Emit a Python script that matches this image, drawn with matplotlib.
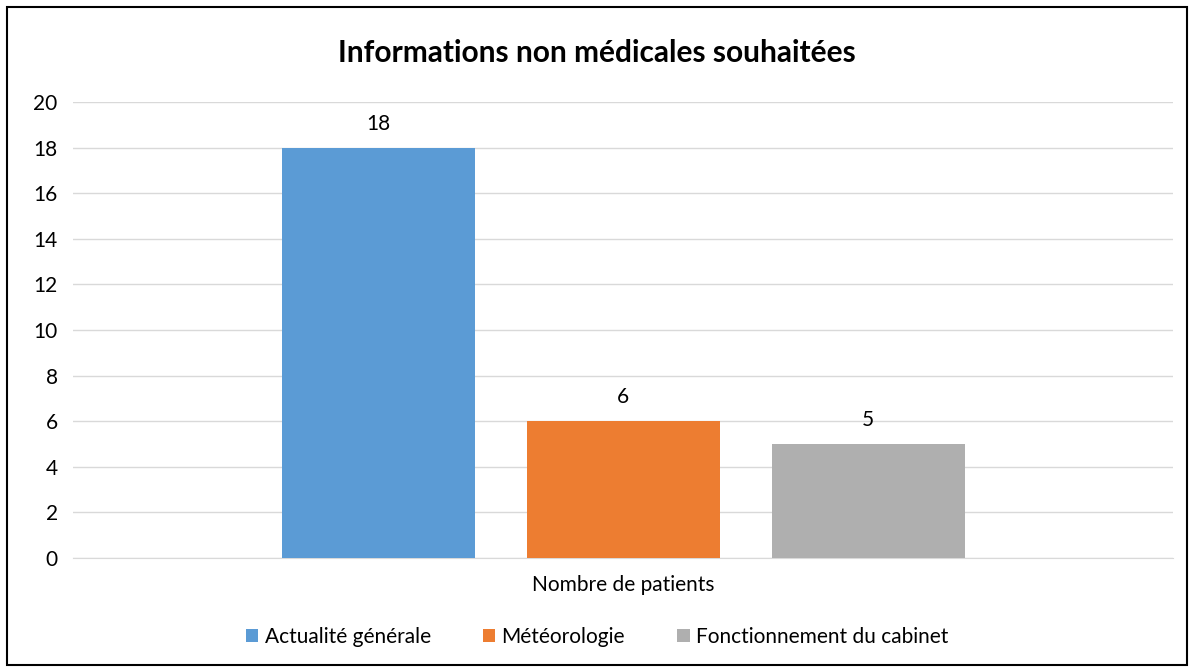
import matplotlib.pyplot as plt
from matplotlib.patches import Rectangle

plt.rcParams['font.family'] = ['Lato', 'DejaVu Sans']

title = "Informations non médicales souhaitées"
category = "Nombre de patients"
series = ["Actualité générale", "Météorologie", "Fonctionnement du cabinet"]
values = [18, 6, 5]
colors = ["#5B9BD5", "#ED7D31", "#AFAFAF"]
yticks = list(range(0, 21, 2))

W, H = 1194, 672
fig = plt.figure(figsize=(W / 100, H / 100), dpi=100)
ax = fig.add_axes([73 / W, (H - 558) / H, 1100 / W, 456 / H])

offsets = [-245, 0, 245]
for name, v, c, off in zip(series, values, colors, offsets):
    b = ax.bar(off, v, width=193, color=c, label=name, zorder=3)
    ax.bar_label(b, padding=10, fontsize=15, color="#000000")

ax.set_xlim(-550, 550)
ax.set_ylim(0, 20)
ax.set_yticks(yticks)
ax.set_xticks([0])
ax.set_xticklabels([category], fontsize=15)
ax.tick_params(axis="x", length=0, pad=12)
ax.tick_params(axis="y", length=0, labelsize=15, pad=11)
ax.grid(axis="y", color="#D9D9D9", lw=1, zorder=0)
for s in ["top", "right", "left"]:
    ax.spines[s].set_visible(False)
ax.spines["bottom"].set_color("#D9D9D9")

fig.text(0.5, (H - 53) / H, title, ha="center", va="center", fontsize=21.5, fontweight="bold")
fig.legend(loc="center", bbox_to_anchor=(0.5, (H - 637) / H), ncol=3, frameon=False,
           fontsize=15, handlelength=0.6, handleheight=0.6, columnspacing=2.5, handletextpad=0.3)

fig.add_artist(Rectangle((7 / W, 7 / H), (W - 14) / W, (H - 14) / H, transform=fig.transFigure,
                         fill=False, edgecolor="black", lw=1.5))

fig.savefig("out.png", dpi=100)
